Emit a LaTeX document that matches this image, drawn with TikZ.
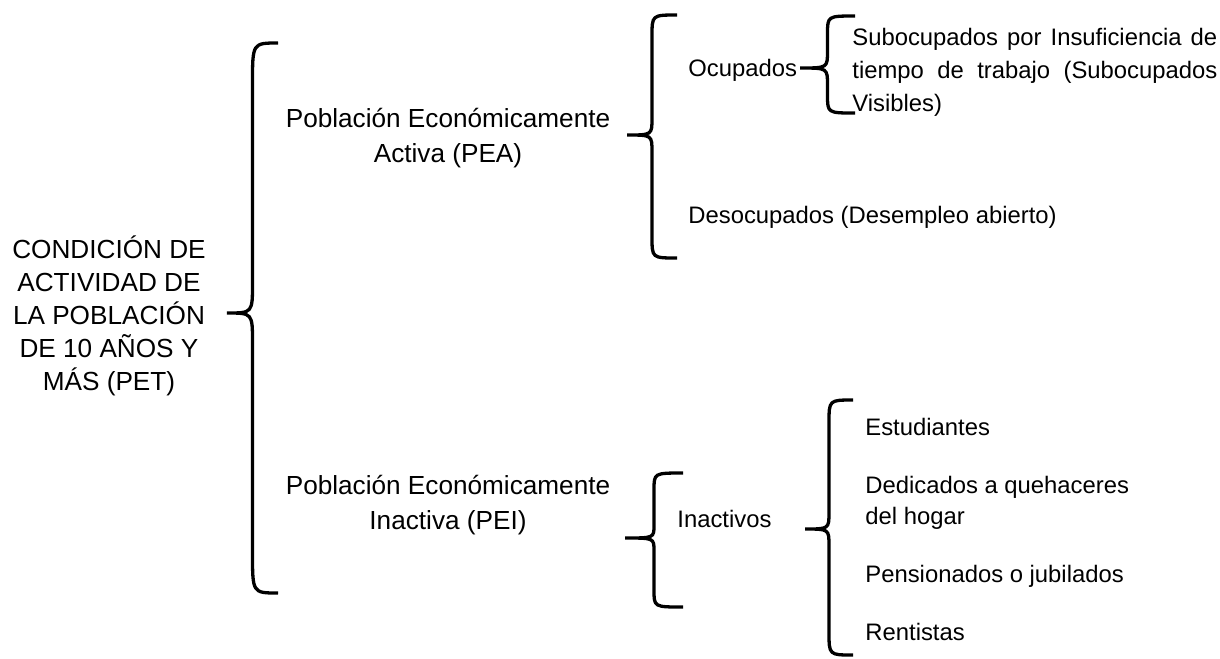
\documentclass[tikz,border=0pt]{standalone}
\usepackage{fontspec}
\setmainfont{Liberation Sans}
\usetikzlibrary{calc}
\newcommand{\wordbrace}[5]{%
  \coordinate (bm) at ($(#1)!0.5!(#2)$);
  \draw[brace] (#1) .. controls (bm |- #1) .. ($(bm |- #1)+(0,-#4)$)
    -- ($(bm |- #2)+(0,#5)$) .. controls (bm |- #2) .. (#2)
    .. controls (bm |- #2) .. ($(bm |- #2)+(0,-#5)$)
    -- ($(bm |- #3)+(0,#4)$) .. controls (bm |- #3) .. (#3);}
\begin{document}
\begin{tikzpicture}[x=0.47pt,y=-0.47pt,
  brace/.style={line width=1.55pt},
  big/.style={font=\fontsize{12.3}{15.5}\selectfont,align=center,inner sep=0pt},
  small/.style={font=\fontsize{11.2}{15.5}\selectfont,inner sep=0pt,anchor=base west}]
  \useasboundingbox (0,0) rectangle (1220,658);
  \node[big,anchor=north] (pet) at (109,235) {CONDICIÓN DE\\ACTIVIDAD DE\\LA POBLACIÓN\\DE 10 AÑOS Y\\MÁS (PET)};
  \node[big,anchor=north,font=\fontsize{12.3}{16.45}\selectfont] (pea) at (448,108) {Población Económicamente\\Activa (PEA)};
  \node[big,anchor=north,font=\fontsize{12.3}{16.45}\selectfont] (pei) at (448,475) {Población Económicamente\\Inactiva (PEI)};
  \node[small] (ocu) at (688,76) {Ocupados};
  \node[small] (des) at (688,223) {Desocupados (Desempleo abierto)};
  \node[small,anchor=north west,text width=171.5pt,align=justify] (sub) at (852,28)
    {\hyphenpenalty=10000\tolerance=9999 Subocupados por Insuficiencia de tiempo de trabajo (Subocupados Visibles)};
  \node[small] (ina) at (677,527) {Inactivos};
  \node[small] (est) at (865,435) {Estudiantes};
  \node[small,anchor=north west,align=left,font=\fontsize{11.2}{14.6}\selectfont] (hog) at (865,476) {Dedicados a quehaceres\\del hogar};
  \node[small] (pen) at (865,582) {Pensionados o jubilados};
  \node[small] (ren) at (865,640) {Rentistas};
  \coordinate (b1t) at (278,43);  \coordinate (b1p) at (227,313); \coordinate (b1b) at (278,593);
  \coordinate (b2t) at (677,15);  \coordinate (b2p) at (627,135); \coordinate (b2b) at (677,258);
  \coordinate (b3t) at (855,16);  \coordinate (b3p) at (800,68);  \coordinate (b3b) at (855,113);
  \coordinate (b4t) at (683,473); \coordinate (b4p) at (625,538); \coordinate (b4b) at (683,607);
  \coordinate (b5t) at (853,400); \coordinate (b5p) at (805,529); \coordinate (b5b) at (853,655);
  \wordbrace{b1t}{b1p}{b1b}{18.8pt}{14pt}
  \wordbrace{b2t}{b2p}{b2b}{10pt}{8pt}
  \wordbrace{b3t}{b3p}{b3b}{8.5pt}{8pt}
  \wordbrace{b4t}{b4p}{b4b}{8pt}{6pt}
  \wordbrace{b5t}{b5p}{b5b}{10.8pt}{8pt}
\end{tikzpicture}
\end{document}
